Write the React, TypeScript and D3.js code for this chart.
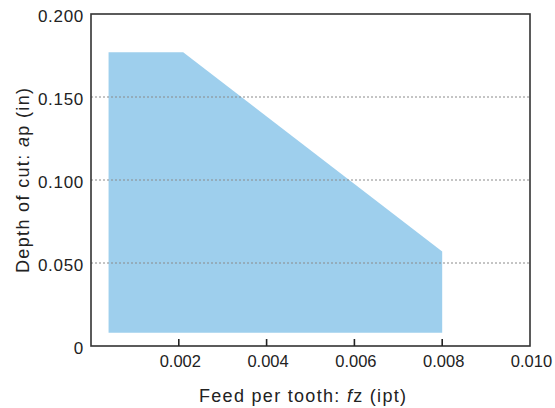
import React from "react";
import * as d3 from "d3";

const feedValues = [0.0004, 0.0021, 0.008, 0.008, 0.0004];
const depthValues = [0.177, 0.177, 0.057, 0.008, 0.008];
const xTicks = [0.002, 0.004, 0.006, 0.008, 0.01];
const yTicks = [0, 0.05, 0.1, 0.15, 0.2];
const yGrid = [0.05, 0.1, 0.15];

export default function App() {
  const W = 555, H = 408;
  const left = 91, right = 530, top = 14, bottom = 346;
  const x = d3.scaleLinear().domain([0, 0.01]).range([left, right]);
  const y = d3.scaleLinear().domain([0, 0.2]).range([bottom, top]);
  const pts: [number, number][] = feedValues.map((f, i) => [x(f), y(depthValues[i])]);
  const line = d3.line().curve(d3.curveLinearClosed);
  const font = "'Liberation Sans', Arial, Helvetica, sans-serif";
  const yFmt = (v: number) => (v === 0 ? "0" : v.toFixed(3));
  return (
    <svg width={W} height={H} style={{ position: "absolute", left: 0, top: 0, background: "#fff" }} fontFamily={font}>
      <path d={line(pts) || ""} fill="#9ecfed" />
      {yGrid.map((v) => (
        <line key={v} x1={left} x2={right} y1={y(v)} y2={y(v)} stroke="#8a8a8a" strokeWidth={1} strokeDasharray="2,2" />
      ))}
      <rect x={left} y={top} width={right - left} height={bottom - top} fill="none" stroke="#333" strokeWidth={1.6} />
      {xTicks.map((v) => (
        <g key={v}>
          {v < 0.01 && <line x1={x(v)} x2={x(v)} y1={bottom} y2={bottom - 7} stroke="#222" strokeWidth={1.6} />}
          <text x={x(v) + 1.5} y={367} textAnchor="middle" fontSize={16.5} fill="#222">{v.toFixed(3)}</text>
        </g>
      ))}
      {yTicks.map((v) => (
        <text key={v} x={84} y={y(v) + 8} textAnchor="end" fontSize={17} letterSpacing={0.7} fill="#222">{yFmt(v)}</text>
      ))}
      <text x={199} y={402} textAnchor="start" fontSize={18} fill="#222" textLength={207} lengthAdjust="spacing">
        Feed per tooth: <tspan fontStyle="italic">f</tspan>z (ipt)
      </text>
      <text transform={`translate(29,273) rotate(-90)`} textAnchor="start" fontSize={18} fill="#222" textLength={185} lengthAdjust="spacing">
        Depth of cut: <tspan fontStyle="italic">a</tspan>p (in)
      </text>
    </svg>
  );
}
